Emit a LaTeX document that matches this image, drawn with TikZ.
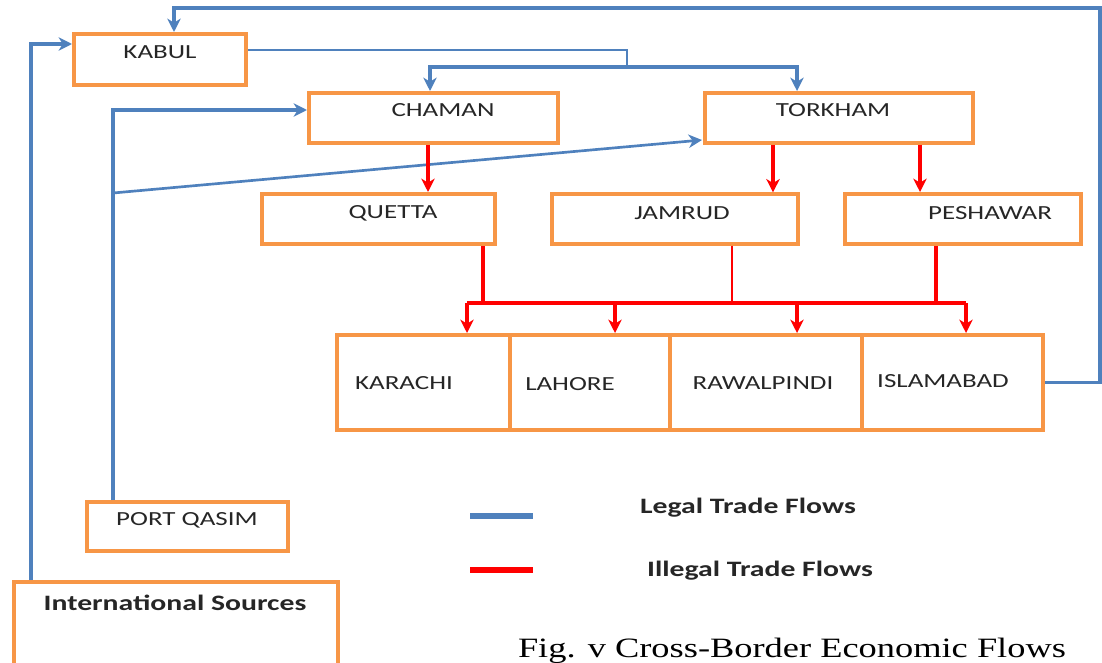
\documentclass[tikz,border=0pt]{standalone}
\usepackage{fontspec}
\setmainfont{Carlito}[FakeStretch=1.35]
\newfontfamily\capfont{Liberation Serif}[FakeStretch=1.3]
\usetikzlibrary{arrows.meta,fit,calc}
\definecolor{lblue}{HTML}{4F81BD}
\definecolor{lorange}{HTML}{F79646}
\definecolor{lred}{HTML}{FF0000}
\begin{document}
\begin{tikzpicture}[x=0.75pt,y=-0.75pt,
  box/.style={draw=lorange,line width=3pt,inner sep=0pt,rectangle},
  thinbox/.style={draw=lorange,line width=2.4pt,inner sep=0pt,rectangle},
  lbl/.style={font=\fontsize{15}{17}\selectfont,text=black!85,inner sep=0pt},
  legtxt/.style={font=\bfseries\fontsize{16.5}{19}\selectfont,text=black!85,inner sep=0pt},
  tip/.style={-{Stealth[length=10pt,width=10pt,inset=3pt]}},
  legal/.style={draw=lblue,line width=2.6pt},
  illegal/.style={draw=lred,line width=2.6pt}]
\useasboundingbox (0,0) rectangle (1102,663);
% boxes
\node[box,fit={(74,34) (246,85)}] (kabul) {};
\node[box,fit={(309,93) (558,143)}] (chaman) {};
\node[box,fit={(705,93) (973,143)}] (torkham) {};
\node[box,fit={(262,194) (495,244)}] (quetta) {};
\node[thinbox,fit={(552,194) (798,244)}] (jamrud) {};
\node[box,fit={(845,194) (1081,244)}] (peshawar) {};
\node[box,fit={(337,335) (510,430)}] (karachi) {};
\node[box,fit={(510,335) (670,430)}] (lahore) {};
\node[box,fit={(670,335) (862,430)}] (rawalpindi) {};
\node[box,fit={(862,335) (1043,430)}] (islamabad) {};
\node[box,fit={(87,502) (288,551)}] (port) {};
\node[box,fit={(14,582) (338,680)}] (intl) {};
% labels
\node[lbl] (tkabul) at (160,52) {KABUL};
\node[lbl] (tchaman) at (443,110) {CHAMAN};
\node[lbl] (ttorkham) at (833,110) {TORKHAM};
\node[lbl] (tquetta) at (393,213) {QUETTA};
\node[lbl] (tjamrud) at (682,213) {JAMRUD};
\node[lbl] (tpeshawar) at (990,213) {PESHAWAR};
\node[lbl] (tkarachi) at (404,383) {KARACHI};
\node[lbl] (tlahore) at (570,384) {LAHORE};
\node[lbl] (trawal) at (763,383) {RAWALPINDI};
\node[lbl] (tisl) at (943,381) {ISLAMABAD};
\node[lbl] (tport) at (187,520) {PORT QASIM};
\node[legtxt] (tintl) at (175,603) {International Sources};
% legal flows
\coordinate (cR) at (1100,8);
\draw[legal,tip] (islamabad.east) -| (cR) -| ($(kabul.north)+(14,0)$);
\draw[legal,tip] ($(intl.north west)+(19,0)$) |- ($(kabul.west)+(0,-15.5)$);
\draw[legal,tip] ($(port.north)+(-74.5,0)$) |- ($(chaman.west)+(0,-8)$);
\coordinate (d0) at (113,193);
\draw[legal,line width=2pt,tip] (d0) -- ($(torkham.south west)+(-1,-5)$);
\coordinate (j1) at (627,67);
\coordinate (xa) at (430,0);
\coordinate (xb) at (797,0);
\draw[legal,line width=2pt] ($(kabul.east)+(0,-9.5)$) -| (j1);
\draw[legal,line width=3.2pt,tip] (j1) -| (chaman.north -| xa);
\draw[legal,line width=3.2pt,tip] (j1) -| (torkham.north -| xb);
% illegal flows
\coordinate (r1) at (428,0);
\coordinate (r2) at (773,0);
\coordinate (r3) at (920,0);
\draw[illegal,tip] (chaman.south -| r1) -- (quetta.north -| r1);
\draw[illegal,tip] (torkham.south -| r2) -- (jamrud.north -| r2);
\draw[illegal,line width=3.2pt,tip] (torkham.south -| r3) -- (peshawar.north -| r3);
\coordinate (bus) at (0,303);
\coordinate (s1) at (483,0);
\coordinate (s2) at (732,0);
\coordinate (s3) at (936,0);
\coordinate (b1) at (467,0);
\coordinate (b2) at (615,0);
\coordinate (b3) at (797,0);
\coordinate (b4) at (966,0);
\draw[illegal,line width=3.4pt] (quetta.south -| s1) -- (bus -| s1);
\draw[illegal,line width=2.2pt] (jamrud.south -| s2) -- (bus -| s2);
\draw[illegal,line width=3.4pt] (peshawar.south -| s3) -- (bus -| s3);
\draw[illegal,line width=3pt] (bus -| b1) -- (bus -| b4);
\draw[illegal,line width=3pt,tip] (bus -| b1) -- (karachi.north -| b1);
\draw[illegal,line width=3pt,tip] (bus -| b2) -- (lahore.north -| b2);
\draw[illegal,line width=2.4pt,tip] (bus -| b3) -- (rawalpindi.north -| b3);
\draw[illegal,line width=3pt,tip] (bus -| b4) -- (islamabad.north -| b4);
% legend
\coordinate (lg1) at (470,516);
\coordinate (lg2) at (533,516);
\coordinate (li1) at (470,570);
\coordinate (li2) at (533,570);
\draw[legal,line width=3.8pt] (lg1) -- (lg2);
\draw[illegal,line width=3.8pt] (li1) -- (li2);
\node[legtxt] (tlegal) at (748,508) {Legal Trade Flows};
\node[legtxt] (tillegal) at (760,571) {Illegal Trade Flows};
\node[inner sep=0pt,font=\capfont\fontsize{21}{24}\selectfont] (cap) at (792,651) {Fig. v Cross-Border Economic Flows};
\end{tikzpicture}
\end{document}
